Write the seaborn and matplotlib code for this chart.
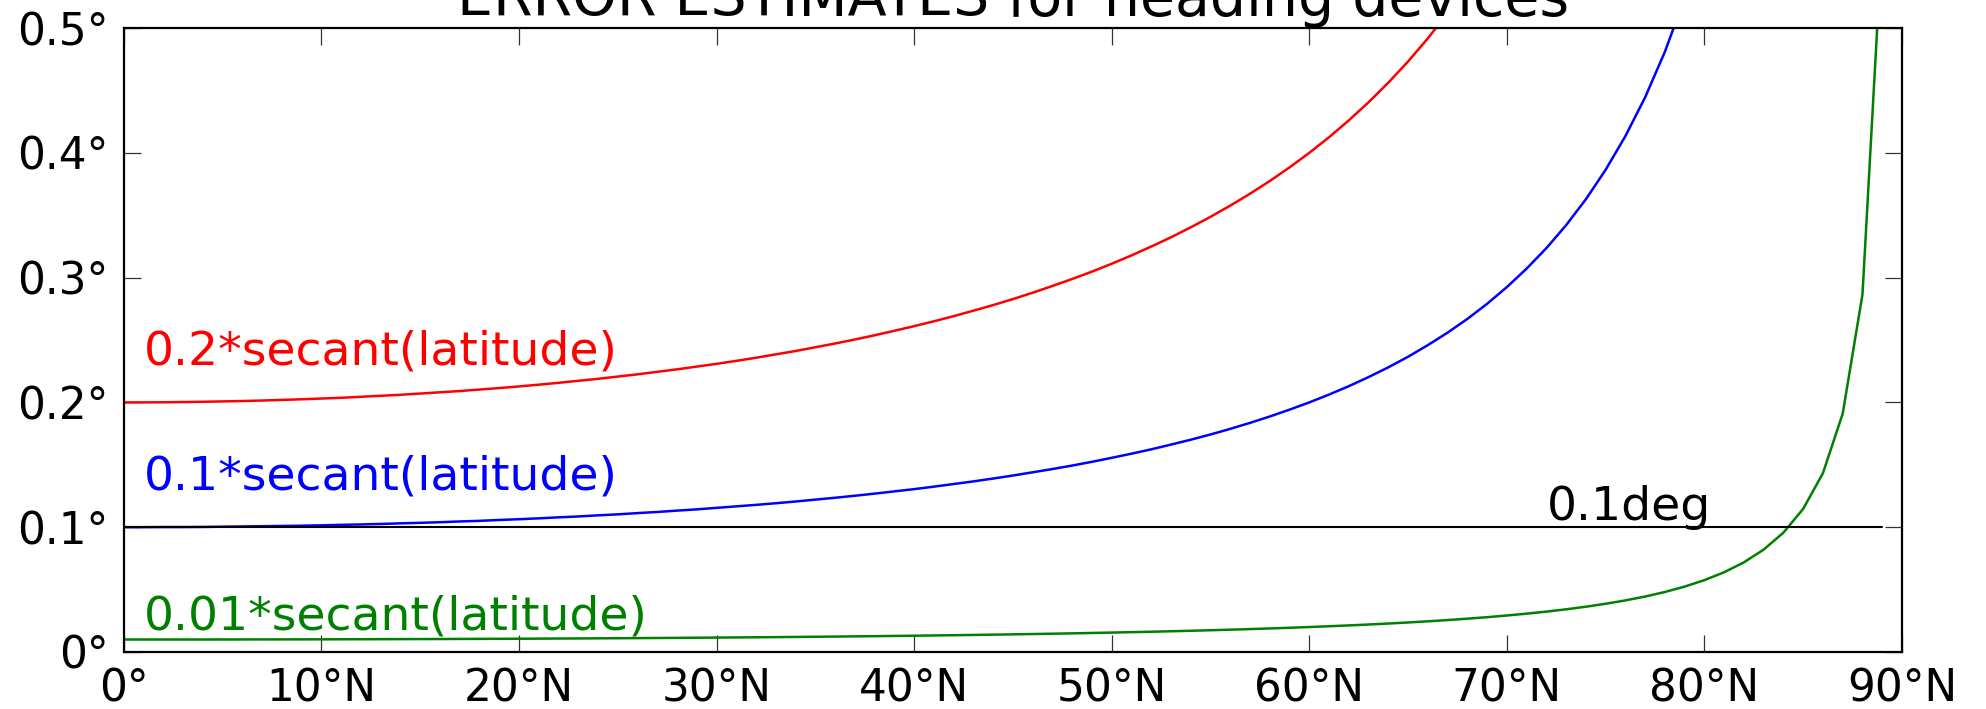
import matplotlib
matplotlib.use("Agg")
import matplotlib.pyplot as plt
import seaborn as sns
import pandas as pd

# Latitude samples, one per degree north
lat = list(range(0, 90))

# Heading error estimates (degrees) at each latitude
err_02 = [0.2000, 0.2000, 0.2001, 0.2003, 0.2005, 0.2008, 0.2011, 0.2015, 0.2020, 0.2025,
          0.2031, 0.2037, 0.2045, 0.2053, 0.2061, 0.2071, 0.2081, 0.2091, 0.2103, 0.2115,
          0.2128, 0.2142, 0.2157, 0.2173, 0.2189, 0.2207, 0.2225, 0.2245, 0.2265, 0.2287,
          0.2309, 0.2333, 0.2358, 0.2385, 0.2412, 0.2442, 0.2472, 0.2504, 0.2538, 0.2574,
          0.2611, 0.2650, 0.2691, 0.2735, 0.2780, 0.2828, 0.2879, 0.2933, 0.2989, 0.3048,
          0.3111, 0.3178, 0.3249, 0.3323, 0.3403, 0.3487, 0.3577, 0.3672, 0.3774, 0.3883,
          0.4000, 0.4125, 0.4260, 0.4405, 0.4562, 0.4732, 0.4917, 0.5119]

err_01 = [0.1000, 0.1000, 0.1001, 0.1001, 0.1002, 0.1004, 0.1006, 0.1008, 0.1010, 0.1012,
          0.1015, 0.1019, 0.1022, 0.1026, 0.1031, 0.1035, 0.1040, 0.1046, 0.1051, 0.1058,
          0.1064, 0.1071, 0.1079, 0.1086, 0.1095, 0.1103, 0.1113, 0.1122, 0.1133, 0.1143,
          0.1155, 0.1167, 0.1179, 0.1192, 0.1206, 0.1221, 0.1236, 0.1252, 0.1269, 0.1287,
          0.1305, 0.1325, 0.1346, 0.1367, 0.1390, 0.1414, 0.1440, 0.1466, 0.1494, 0.1524,
          0.1556, 0.1589, 0.1624, 0.1662, 0.1701, 0.1743, 0.1788, 0.1836, 0.1887, 0.1942,
          0.2000, 0.2063, 0.2130, 0.2203, 0.2281, 0.2366, 0.2459, 0.2559, 0.2669, 0.2790,
          0.2924, 0.3072, 0.3236, 0.3420, 0.3628, 0.3864, 0.4134, 0.4445, 0.4810, 0.5241]

err_001 = [0.01000, 0.01000, 0.01001, 0.01001, 0.01002, 0.01004, 0.01006, 0.01008, 0.01010, 0.01012,
           0.01015, 0.01019, 0.01022, 0.01026, 0.01031, 0.01035, 0.01040, 0.01046, 0.01051, 0.01058,
           0.01064, 0.01071, 0.01079, 0.01086, 0.01095, 0.01103, 0.01113, 0.01122, 0.01133, 0.01143,
           0.01155, 0.01167, 0.01179, 0.01192, 0.01206, 0.01221, 0.01236, 0.01252, 0.01269, 0.01287,
           0.01305, 0.01325, 0.01346, 0.01367, 0.01390, 0.01414, 0.01440, 0.01466, 0.01494, 0.01524,
           0.01556, 0.01589, 0.01624, 0.01662, 0.01701, 0.01743, 0.01788, 0.01836, 0.01887, 0.01942,
           0.02000, 0.02063, 0.02130, 0.02203, 0.02281, 0.02366, 0.02459, 0.02559, 0.02669, 0.02790,
           0.02924, 0.03072, 0.03236, 0.03420, 0.03628, 0.03864, 0.04134, 0.04445, 0.04810, 0.05241,
           0.05759, 0.06392, 0.07185, 0.08206, 0.09567, 0.11474, 0.14336, 0.19107, 0.28654, 0.57299]

# Reference threshold
thresh_lat = [0, 89]
thresh_val = [0.1, 0.1]

series_labels = ["0.2*secant(latitude)", "0.1*secant(latitude)",
                 "0.01*secant(latitude)"]
thresh_label = "0.1deg"
title = "ERROR ESTIMATES for heading devices"

xticks = [0, 10, 20, 30, 40, 50, 60, 70, 80, 90]
xticklabels = ["0°", "10°N", "20°N", "30°N", "40°N", "50°N", "60°N",
               "70°N", "80°N", "90°N"]
yticks = [0.0, 0.1, 0.2, 0.3, 0.4, 0.5]
yticklabels = ["0°", "0.1°", "0.2°", "0.3°", "0.4°", "0.5°"]

sns.set_style("ticks")
plt.rcParams["font.family"] = ["DejaVu Sans"]
plt.rcParams["text.color"] = "black"

fig = plt.figure(figsize=(19.86, 7.09), dpi=100)
ax = fig.add_axes([0.0624, 0.0804, 0.8953, 0.8801])

lw = 1.8
df_r = pd.DataFrame({"lat": lat[:len(err_02)], "err": err_02})
df_b = pd.DataFrame({"lat": lat[:len(err_01)], "err": err_01})
df_g = pd.DataFrame({"lat": lat[:len(err_001)], "err": err_001})
df_t = pd.DataFrame({"lat": thresh_lat, "err": thresh_val})

sns.lineplot(data=df_r, x="lat", y="err", color="#ff0000", lw=lw, ax=ax)
sns.lineplot(data=df_b, x="lat", y="err", color="#0000ff", lw=lw, ax=ax)
sns.lineplot(data=df_g, x="lat", y="err", color="#008000", lw=lw, ax=ax)
sns.lineplot(data=df_t, x="lat", y="err", color="black", lw=1.5, ax=ax)

fs_text = 34
ax.text(1, 0.23, series_labels[0], color="#ff0000", fontsize=fs_text)
ax.text(1, 0.13, series_labels[1], color="#0000ff", fontsize=fs_text)
ax.text(1, 0.018, series_labels[2], color="#008000", fontsize=fs_text)
ax.text(72, 0.106, thresh_label, color="black", fontsize=fs_text)

ax.set_xlim(0, 90)
ax.set_ylim(0, 0.5)
ax.set_xticks(xticks)
ax.set_xticklabels(xticklabels)
ax.set_yticks(yticks)
ax.set_yticklabels(yticklabels)
ax.set_xlabel("")
ax.set_ylabel("")
ax.tick_params(direction="in", length=12, width=0.9, color="#333333",
               top=True, right=True, labelsize=31.5, pad=11,
               labelcolor="black")
for s in ax.spines.values():
    s.set_linewidth(1.6)
    s.set_color("black")
    s.set_visible(True)

ax.set_title(title, fontsize=41, pad=9, color="black")

fig.savefig("out.png", dpi=100)
